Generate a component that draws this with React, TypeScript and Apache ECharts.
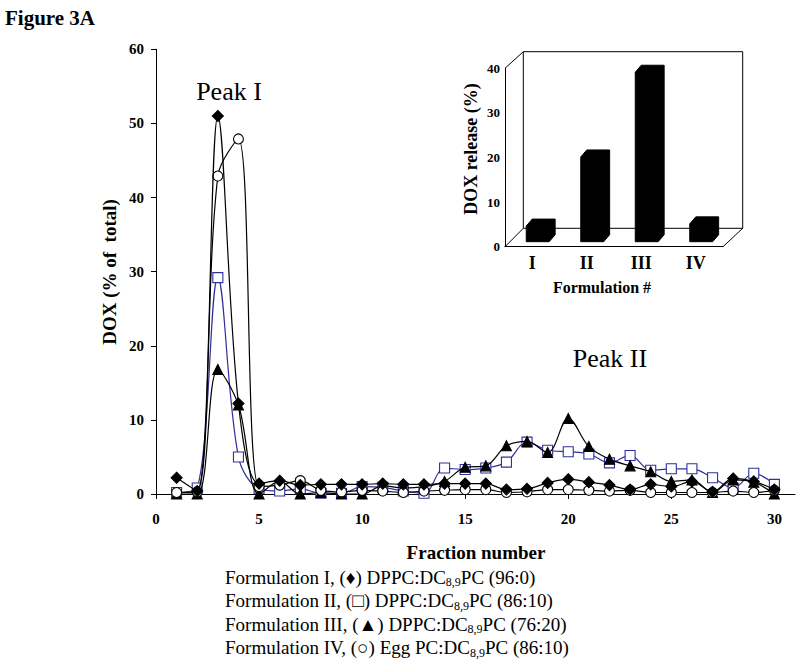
import React, { useEffect, useRef } from "react";
import * as echarts from "echarts";

const fractions = [1, 2, 3, 4, 5, 6, 7, 8, 9, 10, 11, 12, 13, 14, 15, 16, 17, 18, 19, 20, 21, 22, 23, 24, 25, 26, 27, 28, 29, 30];
const formI = [2.2, 0.4, 51, 12.2, 1.4, 1.8, 1.2, 1.3, 1.3, 1.3, 1.4, 1.3, 1.3, 1.4, 1.4, 1.4, 0.6, 0.7, 1.5, 2.0, 1.6, 1.2, 0.6, 1.3, 1.0, 1.7, 0.3, 2.1, 1.7, 0.6];
const formII = [0.2, 0.8, 29.2, 5.0, 0.7, 0.4, 0.7, 0.1, 0.1, 1.0, 0.9, 0.4, 0.1, 3.5, 3.3, 3.5, 4.3, 7.0, 5.9, 5.7, 5.4, 4.2, 5.2, 3.2, 3.4, 3.4, 2.2, 0.8, 2.8, 1.3];
const formIII = [0, 0, 16.8, 12.0, 0, 1.7, 0, 0.2, 0, 0, 1.1, 0.8, 1.0, 1.7, 3.6, 3.8, 6.5, 7.1, 5.6, 10.2, 6.4, 4.7, 3.8, 3.0, 1.7, 1.9, 0.2, 1.9, 1.6, 0];
const formIV = [0.2, 0.3, 42.9, 47.9, 1.0, 1.2, 1.8, 0.5, 0.3, 0.5, 0.4, 0.2, 0.4, 0.5, 0.6, 0.6, 0.2, 0.3, 0.6, 0.6, 0.5, 0.4, 0.5, 0.2, 0.2, 0.2, 0.2, 0.4, 0.2, 0.5];
const xTicks = [0, 5, 10, 15, 20, 25, 30];

const insetCategories = ["I", "II", "III", "IV"];
const insetRelease = [3.5, 19, 38, 4];

const legendLines = [
  ["Formulation I, (\u2666) DPPC:DC", "8,9", "PC (96:0)"],
  ["Formulation II, (\u25A1) DPPC:DC", "8,9", "PC (86:10)"],
  ["Formulation III, (\u25B2) DPPC:DC", "8,9", "PC (76:20)"],
  ["Formulation IV, (\u25CB) Egg PC:DC", "8,9", "PC (86:10)"],
];

const SERIF = "'Liberation Serif', 'Times New Roman', serif";
const BLUE = "#30309e";

export default function App() {
  const ref = useRef<HTMLDivElement>(null);
  useEffect(() => {
    if (!ref.current) return;
    const chart = echarts.init(ref.current, undefined, { renderer: "svg" });
    const pairs = (arr: number[]) => fractions.map((f, i) => [f, arr[i]]);
    const lineSeries = (name: string, arr: number[], symbol: string, size: number, fill: string, stroke: string, z: number) => ({
      name,
      type: "line",
      xAxisIndex: 0,
      yAxisIndex: 0,
      z,
      data: pairs(arr),
      smooth: 0.35,
      clip: false,
      symbol,
      symbolSize: size,
      showAllSymbol: true,
      lineStyle: { color: stroke, width: 1.2 },
      itemStyle: { color: fill, borderColor: stroke, borderWidth: 1.1 },
      emphasis: { disabled: true },
    });

    const frame = [
      [[505, 68.3], [523.3, 51.7]],
      [[523.3, 51.7], [742.7, 51.7]],
      [[742.7, 51.7], [742.7, 228.3]],
      [[523.3, 51.7], [523.3, 228.3]],
      [[523.3, 228.3], [742.7, 228.3]],
      [[505, 246.7], [523.3, 228.3]],
      [[723, 246.7], [742.7, 228.3]],
    ];

    const graphics: any[] = [
      { type: "text", left: 5, top: 7, style: { text: "Figure 3A", font: `bold 21px ${SERIF}`, fill: "#000" } },
      { type: "text", x: 229, y: 91, style: { text: "Peak I", font: `26px ${SERIF}`, fill: "#000", align: "center", verticalAlign: "middle" } },
      { type: "text", x: 610, y: 358, style: { text: "Peak II", font: `26px ${SERIF}`, fill: "#000", align: "center", verticalAlign: "middle" } },
      { type: "text", x: 476, y: 552, style: { text: "Fraction number", font: `bold 19px ${SERIF}`, fill: "#000", align: "center", verticalAlign: "middle" } },
      { type: "text", x: 109, y: 272, rotation: Math.PI / 2, style: { text: "DOX (% of  total)", font: `bold 19px ${SERIF}`, fill: "#000", align: "center", verticalAlign: "middle" } },
      { type: "text", x: 471, y: 149, rotation: Math.PI / 2, style: { text: "DOX release (%)", font: `bold 18px ${SERIF}`, fill: "#000", align: "center", verticalAlign: "middle" } },
      { type: "text", x: 602, y: 287, style: { text: "Formulation #", font: `bold 16px ${SERIF}`, fill: "#000", align: "center", verticalAlign: "middle" } },
      ...frame.map((seg) => ({
        type: "line",
        shape: { x1: seg[0][0], y1: seg[0][1], x2: seg[1][0], y2: seg[1][1] },
        style: { stroke: "#000", lineWidth: 1 },
        silent: true,
      })),
      ...legendLines.map((l, i) => ({
        type: "text",
        x: 225,
        y: 577 + i * 23.6,
        style: {
          text: `{a|${l[0]}}{s|${l[1]}}{a|${l[2]}}`,
          fill: "#000",
          verticalAlign: "middle",
          rich: {
            a: { font: `19px ${SERIF}`, lineHeight: 22, fill: "#000" },
            s: { font: `12px ${SERIF}`, lineHeight: 10, verticalAlign: "bottom", fill: "#000" },
          },
        },
      })),
    ];

    chart.setOption({
      animation: false,
      backgroundColor: "#fff",
      textStyle: { fontFamily: SERIF },
      grid: [
        { left: 156, top: 49.3, width: 639, height: 444.7, containLabel: false },
        { left: 505, top: 68.3, width: 218, height: 178.4, containLabel: false },
      ],
      xAxis: [
        {
          type: "value",
          gridIndex: 0,
          min: 0,
          max: 31,
          interval: 5,
          axisLine: { show: true, lineStyle: { color: "#000", width: 1 } },
          axisTick: { show: true, inside: false, length: 5, lineStyle: { color: "#000" }, customValues: xTicks },
          axisLabel: { customValues: xTicks, margin: 17, color: "#000", fontWeight: "bold", fontSize: 15, fontFamily: SERIF },
          splitLine: { show: false },
        },
        {
          type: "category",
          gridIndex: 1,
          data: insetCategories,
          axisLine: { show: true, lineStyle: { color: "#000", width: 1 } },
          axisTick: { show: false },
          axisLabel: { margin: 7, color: "#000", fontWeight: "bold", fontSize: 18, fontFamily: SERIF },
          splitLine: { show: false },
        },
      ],
      yAxis: [
        {
          type: "value",
          gridIndex: 0,
          min: 0,
          max: 60,
          interval: 10,
          axisLine: { show: true, lineStyle: { color: "#000", width: 1 } },
          axisTick: { show: true, inside: false, length: 5, lineStyle: { color: "#000" } },
          axisLabel: { margin: 12, color: "#000", fontWeight: "bold", fontSize: 15, fontFamily: SERIF },
          splitLine: { show: false },
        },
        {
          type: "value",
          gridIndex: 1,
          min: 0,
          max: 40,
          interval: 10,
          axisLine: { show: true, lineStyle: { color: "#000", width: 1 } },
          axisTick: { show: false },
          axisLabel: { margin: 5, color: "#000", fontWeight: "bold", fontSize: 13, fontFamily: SERIF },
          splitLine: { show: false },
        },
      ],
      series: [
        lineSeries("Formulation I", formI, "diamond", 11, "#000", "#000", 5),
        lineSeries("Formulation II", formII, "rect", 10, "#fff", BLUE, 2),
        lineSeries("Formulation III", formIII, "triangle", 10, "#000", "#000", 3),
        lineSeries("Formulation IV", formIV, "circle", 10, "#fff", "#000", 4),
        {
          type: "custom",
          xAxisIndex: 1,
          yAxisIndex: 1,
          data: insetCategories.map((c, i) => [i, insetRelease[i]]),
          encode: { x: 0, y: 1 },
          renderItem: (params: any, api: any) => {
            const cat = api.value(0);
            const v = api.value(1);
            const top = api.coord([cat, v]);
            const base = api.coord([cat, 0]);
            const band = api.size([1, 0])[0];
            const w = band * 0.42;
            const offX = band * 0.1;
            const offY = -5;
            const dx = 6;
            const dy = -7;
            const x0 = top[0] - w / 2 + offX;
            const x1 = x0 + w;
            const yb = base[1] + offY;
            const yt = top[1] + offY;
            return {
              type: "polygon",
              shape: {
                points: [
                  [x0, yb],
                  [x0, yt],
                  [x0 + dx, yt + dy],
                  [x1 + dx, yt + dy],
                  [x1 + dx, yb + dy],
                  [x1, yb],
                ],
              },
              style: { fill: "#000", stroke: "#000", lineWidth: 1 },
            };
          },
        },
      ],
      graphic: graphics,
    });
    return () => chart.dispose();
  }, []);
  return <div ref={ref} style={{ position: "fixed", left: 0, top: 0, width: 800, height: 660, background: "#fff" }} />;
}
